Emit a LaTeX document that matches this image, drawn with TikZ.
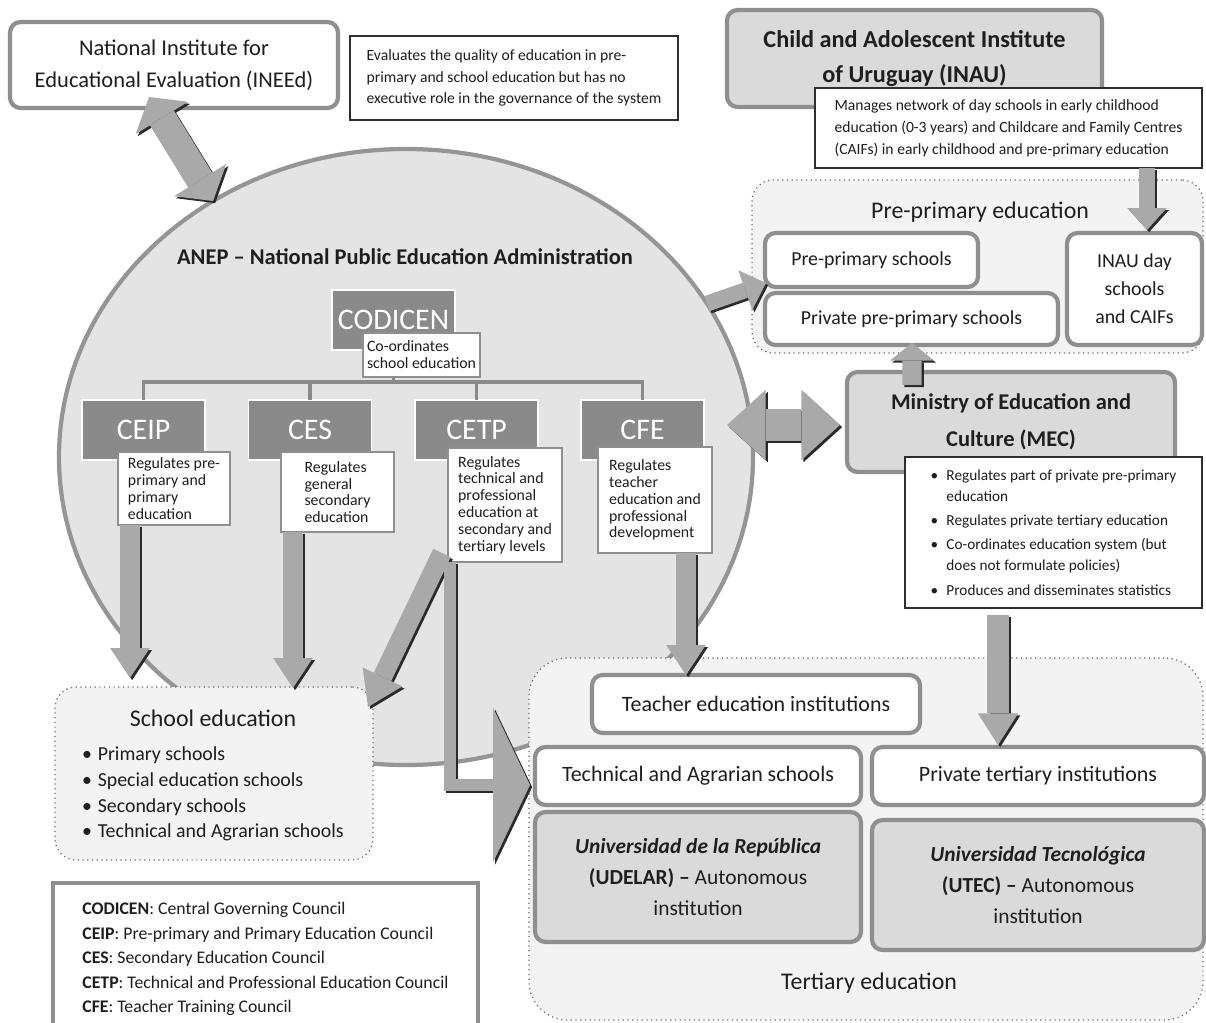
\documentclass[tikz,border=0pt]{standalone}
\usepackage{fontspec}
\setmainfont{Carlito}
\usetikzlibrary{arrows.meta,shapes.geometric,calc}

\definecolor{bordergrey}{HTML}{8F8F8F}
\definecolor{boxgrey}{HTML}{DADADA}
\definecolor{circfill}{HTML}{E4E4E4}
\definecolor{circline}{HTML}{959595}
\definecolor{contfill}{HTML}{F3F3F3}
\definecolor{contline}{HTML}{6E6E6E}
\definecolor{councilgrey}{HTML}{8A8A8A}
\definecolor{darkline}{HTML}{2E2E2E}
\definecolor{txt}{HTML}{1E1E1E}
\definecolor{arrowc}{HTML}{A9A9A9}
\definecolor{shadowc}{HTML}{2A2A2A}

\newcommand\fsz[2]{\fontsize{#1}{#2}\selectfont}
\newcommand\mbul{\makebox[9pt][l]{•}}
\newcommand\mind{\hspace*{9pt}}
\newcommand\sbul{\makebox[9pt][l]{•}}
\newcommand\barrow[2]{%
  \draw[#1,draw=shadowc,transform canvas={xshift=1.2pt,yshift=-1.2pt}] #2;
  \draw[#1,draw=arrowc] #2;}

\tikzset{
  every node/.style={text=txt, inner sep=0pt, outer sep=0pt},
  sz/.style 2 args={minimum width=#1*0.02cm, minimum height=#2*0.02cm},
  rbox/.style={draw=bordergrey, line width=2.4pt, rounded corners=6pt, fill=white, align=center},
  gbox/.style={rbox, fill=boxgrey},
  dbox/.style={draw=darkline, line width=1.3pt, fill=white, align=left},
  cbox/.style={fill=councilgrey, draw=white, line width=1pt, text=white, font=\fsz{17}{20}},
  cdesc/.style={draw=bordergrey, line width=1.6pt, fill=white, align=left, font=\fsz{9}{9.6}},
  cont/.style={draw=contline, dotted, line width=0.7pt, fill=contfill, rounded corners=12pt},
  tree/.style={draw=councilgrey, line width=2pt},
  sarr/.style n args={3}{line width=#1, -{Triangle[width=#2,length=#3,line width=0pt]}},
  darr/.style n args={3}{line width=#1, {Triangle[width=#2,length=#3,line width=0pt]}-{Triangle[width=#2,length=#3,line width=0pt]}},
}

\begin{document}
\begin{tikzpicture}[x=0.02cm,y=-0.02cm]
\useasboundingbox (0,0) rectangle (1206,1023);
\clip (0,0) rectangle (1206,1023);
\fill[white] (0,0) rectangle (1206,1023);

% ANEP ellipse
\node[ellipse, draw=circline, line width=2.4pt, fill=circfill, sz={694}{616}] (anep) at (406,457) {};

% containers
\node[cont, sz={451}{173}] (pre) at (977.5,266.5) {};
\node[cont, sz={318}{173}] (school) at (214,773.5) {};
\node[cont, rounded corners=22pt, sz={674}{362}] (tert) at (866,839) {};

% INEEd
\node[rbox, sz={328}{86}, font=\fsz{12.8}{18.1}] (ineed) at (174,65) {National Institute for\\Educational Evaluation (INEEd)};
\node[dbox, sz={328}{84}, font=\fsz{8.9}{12.2}] (ineedd) at (514,78) {Evaluates the quality of education in pre-\\primary and school education but has no\\executive role in the governance of the system};

% INAU
\node[gbox, sz={375}{97}, font=\fsz{13.8}{19.8}\bfseries] (inau) at (914.5,58.5) {Child and Adolescent Institute\\of Uruguay (INAU)};
\node[dbox, sz={387}{80}, font=\fsz{8.9}{12.5}] (inaud) at (1008.5,128) {Manages network of day schools in early childhood\\education (0-3 years) and Childcare and Family Centres\\(CAIFs) in early childhood and pre-primary education};

% Pre-primary
\node[font=\fsz{13.6}{16}] (pret) at (980,212) {Pre-primary education};
\node[rbox, sz={213}{54}, font=\fsz{11.3}{14}] (pps) at (871.5,260) {Pre-primary schools};
\node[rbox, sz={293}{52}, font=\fsz{11.3}{14}] (ppp) at (911.5,319) {Private pre-primary schools};
\node[rbox, sz={135}{112}, font=\fsz{11.3}{15.9}] (inauday) at (1134.5,289) {INAU day\\schools\\and CAIFs};

% MEC
\node[gbox, sz={328}{100}, font=\fsz{12.8}{21}\bfseries] (mec) at (1011,422) {Ministry of Education and\\Culture (MEC)};
\node[dbox, sz={297}{151}, font=\fsz{8.7}{11.9}] (mecd) at (1053.5,532.5) {\mbul Regulates part of private pre-primary\\\mind education\\[2pt]\mbul Regulates private tertiary education\\[2pt]\mbul Co-ordinates education system (but\\\mind does not formulate policies)\\[2pt]\mbul Produces and disseminates statistics};

% ANEP inside
\node[font=\fsz{12.8}{15}\bfseries] (anept) at (405,257) {ANEP -- National Public Education Administration};
\node[cbox, sz={123}{60}] (codicen) at (393.5,320) {CODICEN};
\node[cbox, sz={123}{60}] (ceip) at (143.5,430) {CEIP};
\node[cbox, sz={123}{60}] (ces) at (310,430) {CES};
\node[cbox, sz={123}{60}] (cetp) at (476.5,430) {CETP};
\node[cbox, sz={123}{60}] (cfe) at (642.5,430) {CFE};
\coordinate (bary) at (0,382);
\draw[tree] (ceip.north) -- (ceip.north |- bary) -- (cfe.north |- bary) -- (cfe.north);
\draw[tree] (ces.north) -- (ces.north |- bary);
\draw[tree] (cetp.north) -- (cetp.north |- bary);
\draw[tree] (codicen.south) -- (codicen.south |- bary);
\node[cdesc, sz={117}{44}] (codicend) at (421.5,355) {Co-ordinates\\school education};
\node[cdesc, sz={112}{73}] (ceipd) at (174,488.5) {Regulates pre-\\primary and\\primary\\education};
\node[cdesc, sz={113}{80}] (cesd) at (337.5,492) {Regulates\\general\\secondary\\education};
\node[cdesc, sz={114}{114}] (cetpd) at (505,505) {Regulates\\technical and\\professional\\education at\\secondary and\\tertiary levels};
\node[cdesc, sz={114}{106}] (cfed) at (655,500) {Regulates\\teacher\\education and\\professional\\development};

% School education
\node[font=\fsz{13.6}{16}] (schoolt) at (213,718) {School education};
\node[anchor=west, align=left, font=\fsz{11.3}{14.7}] (schooll) at (82,794) {\sbul Primary schools\\\sbul Special education schools\\\sbul Secondary schools\\\sbul Technical and Agrarian schools};

% Tertiary
\node[rbox, sz={328}{58}, font=\fsz{12.5}{15}] (teach) at (756,704) {Teacher education institutions};
\node[rbox, sz={326}{58}, font=\fsz{12.5}{15}] (tech) at (698,776) {Technical and Agrarian schools};
\node[rbox, sz={332}{58}, font=\fsz{12.5}{15}] (priv) at (1038,776) {Private tertiary institutions};
\node[gbox, sz={326}{130}, font=\fsz{12.2}{17.6}] (udelar) at (698,877) {\textbf{\textit{Universidad de la República}}\\\textbf{(UDELAR) --} Autonomous\\institution};
\node[gbox, sz={332}{130}, font=\fsz{12.2}{17.6}] (utec) at (1038,885) {\textbf{\textit{Universidad Tecnológica}}\\\textbf{(UTEC) --} Autonomous\\institution};
\node[font=\fsz{13.6}{16}] (tertt) at (869,983) {Tertiary education};

% Legend
\node[draw=bordergrey, line width=2.4pt, fill=white, align=left, sz={425}{152}, font=\fsz{10.1}{14}] (legend) at (265.5,959) {\textbf{CODICEN}: Central Governing Council\\\textbf{CEIP}: Pre-primary and Primary Education Council\\\textbf{CES}: Secondary Education Council\\\textbf{CETP}: Technical and Professional Education Council\\\textbf{CFE}: Teacher Training Council};

% Arrows
\barrow{darr={16pt}{35pt}{14pt}}{($(ineed.south)+(-25,-11)$) -- (anep.127)}
\barrow{sarr={11pt}{22.5pt}{17pt}}{($(ceipd.south)+(-44,0)$) -- ($(school.north west)+(75,-9)$)}
\barrow{sarr={11pt}{22.5pt}{17pt}}{($(cesd.south)+(-44.5,0)$) -- ($(school.north)+(79,1)$)}
\barrow{sarr={11pt}{25pt}{19pt}}{($(cetpd.south)+(-63,-9)$) -- ($(school.north east)+(-5,20)$)}
\barrow{sarr={6.5pt}{88pt}{21pt}}{($(cetpd.south)+(-55,0)$) |- ($(tert.west)+(1,-54)$)}
\barrow{sarr={11pt}{22.5pt}{17pt}}{($(cfed.south)+(31,0)$) -- ($(teach.north)+(-70,0)$)}
\barrow{sarr={9pt}{24pt}{12.5pt}}{(anep.27) -- ($(pps.south west)+(1,-4)$)}
\barrow{darr={18pt}{40pt}{22pt}}{($(anep.center)+(321,-32)$) -- ($(mec.west)+(-7,3)$)}
\barrow{sarr={11pt}{25pt}{10pt}}{($(mec.north)+(-99,13)$) -- ($(ppp.south)+(0.5,-2)$)}
\barrow{sarr={9.5pt}{22.5pt}{12.5pt}}{($(inaud.south)+(138.5,0)$) -- ($(inauday.north)+(12.5,-3)$)}
\barrow{sarr={12pt}{23pt}{18pt}}{($(mecd.south)+(-55.5,7)$) -- ($(priv.north)+(-40,-2)$)}
\end{tikzpicture}
\end{document}
